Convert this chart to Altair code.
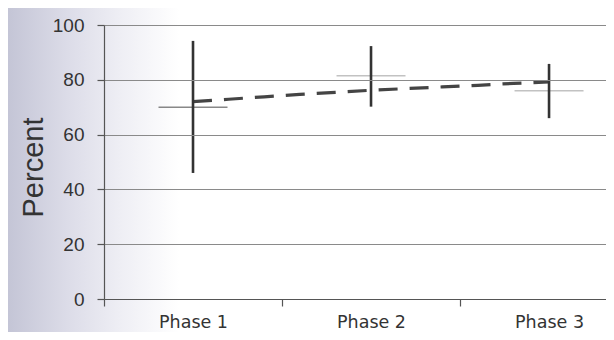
import altair as alt
import pandas as pd

# --- data ---
phases = ["Phase 1", "Phase 2", "Phase 3"]
phase_pos = [1, 2, 3]
means = [70, 81.5, 76]
lows = [46, 70.2, 66]
highs = [94.2, 92.3, 85.8]

trend_x = [1.0, 1.2, 1.4, 1.6, 1.8, 2.0, 2.2, 2.4, 2.6, 2.8, 3.0]
trend_y = [72.0, 72.9, 73.8, 74.7, 75.4, 76.2, 76.8, 77.4, 78.0, 78.7, 79.2]

y_ticks = [0, 20, 40, 60, 80, 100]
x_bounds = [0.5, 1.5, 2.5]

phase_df = pd.DataFrame({"phase": phases, "pos": phase_pos, "mean": means,
                         "lo": lows, "hi": highs})
trend_df = pd.DataFrame({"x": trend_x, "y": trend_y})

FONT = "Liberation Sans"

label_expr = " : ".join(
    f"datum.value == {p} ? '{n}'" for p, n in zip(phase_pos, phases)) + " : ''"

x_scale = alt.Scale(domain=[0.5, 3.32], nice=False, zero=False)
y_scale = alt.Scale(domain=[0, 100], nice=False)

x_axis = alt.Axis(
    values=sorted(x_bounds + phase_pos), labelExpr=label_expr, title=None,
    grid=False, domainColor="#555", domainWidth=1.2, tickColor="#555",
    tickSize=7, tickWidth=1.2, zindex=1,
    tickOpacity={"condition": {"test": "datum.value % 1 == 0", "value": 0}, "value": 1},
    labelFont="DejaVu Sans", labelFontSize=17.5, labelColor="#333", labelPadding=7,
    labelOverlap=False, labelFlush=False,
)
y_axis = alt.Axis(
    values=y_ticks, title="Percent", grid=True, gridColor="#8a8a8a", gridWidth=1.2,
    domainColor="#555", domainWidth=1.2, tickColor="#555", tickSize=7, tickWidth=1.2,
    zindex=1,
    labelFont=FONT, labelFontSize=19, labelColor="#333", labelPadding=13,
    titleFont=FONT, titleFontSize=29, titleFontWeight="normal", titleColor="#333",
    titleAngle=-90, titleX=-71, titleY=142, titleAlign="center", titleBaseline="middle",
)

shade = alt.Chart(pd.DataFrame({"a": [0]})).mark_rect(
    color=alt.Gradient(
        gradient="linear", x1=0, x2=1, y1=0, y2=0,
        stops=[alt.GradientStop(offset=0, color="#c4c5d6"),
               alt.GradientStop(offset=0.35, color="#dcdce8"),
               alt.GradientStop(offset=0.65, color="#eeeef4"),
               alt.GradientStop(offset=1, color="#ffffff")],
    )
).encode(x=alt.value(-96), x2=alt.value(75), y=alt.value(-17), y2=alt.value(307))

base = alt.Chart(phase_df)

mean_ticks = base.mark_tick(orient="horizontal", size=69, thickness=1.6).encode(
    x=alt.X("pos:Q", scale=x_scale, axis=x_axis),
    y=alt.Y("mean:Q", scale=y_scale, axis=y_axis),
    color=alt.condition("datum.phase == 'Phase 1'", alt.value("#555"), alt.value("#a8a8a8")),
)

trend = alt.Chart(trend_df).mark_line(
    color="#444", strokeWidth=3.2, strokeDash=[19, 12]
).encode(
    x=alt.X("x:Q", scale=x_scale),
    y=alt.Y("y:Q", scale=y_scale),
)

bars = base.mark_rule(color="#333", strokeWidth=2.6).encode(
    x=alt.X("pos:Q", scale=x_scale),
    y=alt.Y("lo:Q", scale=y_scale),
    y2="hi:Q",
)

chart = alt.layer(shade, mean_ticks, trend, bars).properties(
    width=502, height=274,
    autosize=alt.AutoSizeParams(type="none"),
    padding={"left": 96, "top": 17, "right": 0, "bottom": 33},
    background="white",
).configure_view(stroke=None)

chart.save("out.html", embed_options={"renderer": "svg", "actions": False})
